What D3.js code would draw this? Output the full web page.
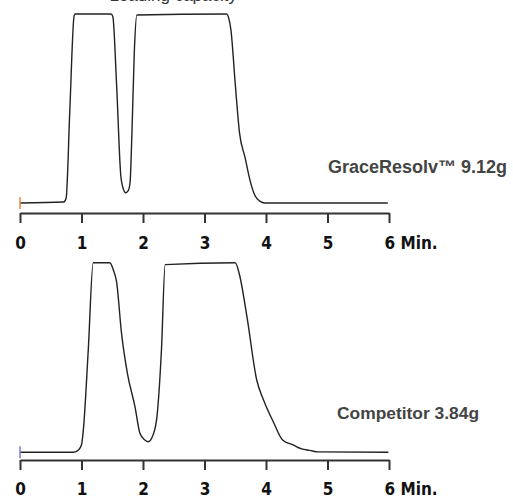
<!DOCTYPE html>
<html>
<head>
<meta charset="utf-8">
<script src="https://cdn.jsdelivr.net/npm/d3@7"></script>
<style>
  html, body { margin: 0; padding: 0; background: #fff; }
  svg { display: block; }
</style>
</head>
<body>
<svg id="chart" width="513" height="496"></svg>
<script>
// chromatogram traces, minutes vs. detector signal (% of full scale)
const graceTime = [0, 0.71, 0.75, 0.81, 0.88, 0.90, 1.48, 1.51, 1.57, 1.64, 1.67, 1.72, 1.76, 1.79, 1.82, 1.86, 1.90, 3.36, 3.40, 3.43, 3.50, 3.57, 3.66, 3.74, 3.82, 3.90, 3.98, 5.98];
const graceSignal = [0, 0.5, 2.5, 49, 99, 100, 100, 98.6, 63, 14, 8.6, 5.4, 6.5, 11, 37, 81, 99.5, 100, 97, 91.5, 63, 37, 24, 12, 4, 1, 0, 0];

const compTime = [0, 0.87, 0.95, 1.00, 1.03, 1.11, 1.19, 1.46, 1.52, 1.57, 1.65, 1.75, 1.87, 1.95, 2.03, 2.09, 2.14, 2.22, 2.30, 2.36, 3.50, 3.57, 3.69, 3.85, 3.96, 4.12, 4.27, 4.44, 4.58, 4.71, 4.85, 5.99];
const compSignal = [0, 0, 1.2, 4, 11.8, 54, 100, 100, 96, 90, 63, 41, 24, 10, 6.5, 5.6, 7.4, 17, 54, 99, 100, 93.5, 71.5, 38, 27.6, 16, 6.5, 3.9, 1.8, 1, 0.2, 0];

const tickValues = [0, 1, 2, 3, 4, 5, 6];
const panelLabels = ['GraceResolv™ 9.12g', 'Competitor 3.84g'];
const markerColors = ['#e8873e', '#7282d4'];

const svg = d3.select('#chart');

const x = d3.scaleLinear().domain([0, 6]).range([20, 389]);

// title above, mostly cut off by the frame
svg.append('text')
  .attr('x', 237).attr('y', 1)
  .attr('text-anchor', 'end')
  .attr('font-family', 'Liberation Sans, Arial, sans-serif')
  .attr('font-size', 17)
  .attr('fill', '#333')
  .text('Loading capacity');

const panels = [
  { time: graceTime, signal: graceSignal, base: 203, top: 14, axisY: 213, labY: 36, label: panelLabels[0], color: markerColors[0], lx: 328, ly: 173, fs: 18 },
  { time: compTime, signal: compSignal, base: 452.3, top: 262.7, axisY: 460, labY: 34.5, label: panelLabels[1], color: markerColors[1], lx: 337, ly: 419, fs: 17.4 }
];

panels.forEach(p => {
  const y = d3.scaleLinear().domain([0, 100]).range([p.base, p.top]);
  const pts = p.time.map((t, i) => [t, p.signal[i]]);

  const line = d3.line()
    .x(d => x(d[0]))
    .y(d => y(d[1]))
    .curve(d3.curveMonotoneX);

  svg.append('path')
    .datum(pts)
    .attr('d', line)
    .attr('fill', 'none')
    .attr('stroke', '#222')
    .attr('stroke-width', 1.4)
    .attr('stroke-linejoin', 'round');

  // start marker
  svg.append('line')
    .attr('x1', x(0)).attr('x2', x(0))
    .attr('y1', y(0) - 6).attr('y2', y(0) + 6)
    .attr('stroke', p.color)
    .attr('stroke-width', 1.5);

  // time axis
  const axis = svg.append('g')
    .attr('transform', `translate(0,${p.axisY})`)
    .call(d3.axisBottom(x).tickValues(tickValues).tickSize(10).tickSizeOuter(0).tickFormat(d => d === 6 ? '6 Min.' : d));

  axis.select('.domain').attr('stroke', '#333').attr('stroke-width', 2);
  axis.selectAll('.tick line').attr('stroke', '#333').attr('stroke-width', 2);
  axis.selectAll('.tick text')
    .attr('y', p.labY).attr('dy', 0)
    .attr('fill', '#111')
    .attr('font-family', 'DejaVu Sans Condensed, DejaVu Sans, sans-serif')
    .attr('font-stretch', 'condensed')
    .attr('font-weight', 'bold')
    .attr('font-size', 17)
    .filter(d => d === 6)
    .attr('text-anchor', 'start')
    .attr('x', -5);

  svg.append('text')
    .attr('x', p.lx).attr('y', p.ly)
    .attr('font-family', 'Liberation Sans, Arial, sans-serif')
    .attr('font-weight', 'bold')
    .attr('font-size', p.fs)
    .attr('fill', '#444')
    .text(p.label);
});
</script>
</body>
</html>
